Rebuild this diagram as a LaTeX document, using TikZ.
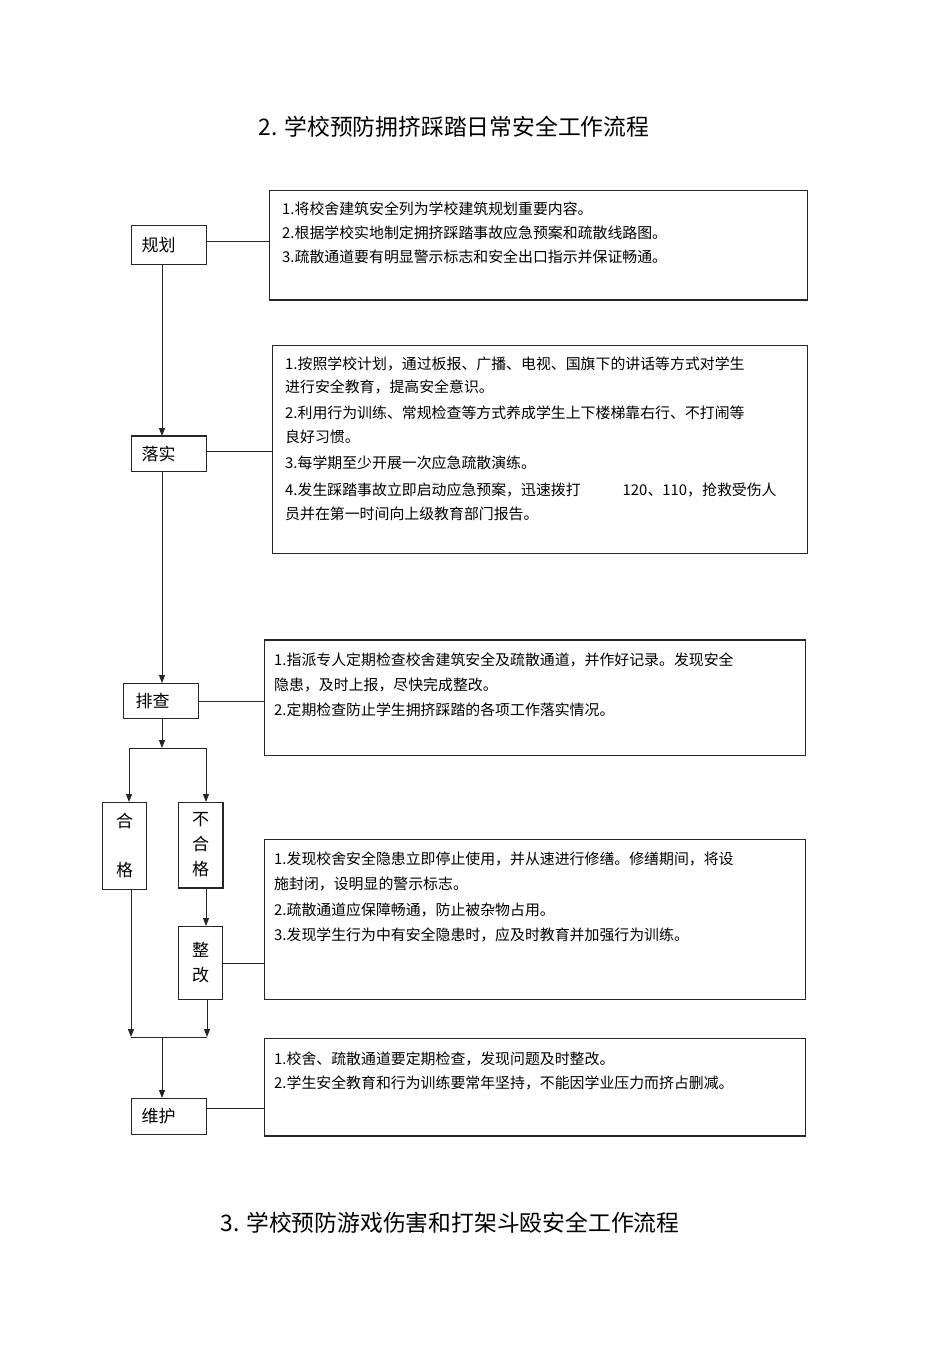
\documentclass[tikz,border=0pt]{standalone}
\usepackage{fontspec}
\setmainfont{Noto Sans CJK SC}
\usetikzlibrary{arrows.meta}
\begin{document}
\begin{tikzpicture}[x=1pt,y=-1pt,
  line/.style={draw=black!85, line width=1pt},
  heavy/.style={draw=black!85, line width=2pt},
  arr/.style={line, -{Triangle[length=8pt,width=6pt]}},
  panel/.style={line, anchor=north west, inner sep=0pt},
  stepbox/.style={line, anchor=north west, inner xsep=10pt, inner ysep=0pt, text width=55pt, align=left, font=\fontsize{17}{20}\selectfont},
  vbox/.style={line, anchor=north west, inner sep=0pt, minimum width=44pt, align=center},
  txt/.style={anchor=west, inner sep=0pt, font=\fontsize{14.9}{17}\selectfont},
  ttl/.style={inner sep=0pt, font=\fontsize{22.8}{26}\selectfont},
]
\path[use as bounding box, fill=white] (0,0) rectangle (950,1346);

% titles
\node[ttl] (title2) at (454,127) {2. 学校预防拥挤踩踏日常安全工作流程};
\node[ttl] (title3) at (450,1223) {3. 学校预防游戏伤害和打架斗殴安全工作流程};

% step boxes
\node[stepbox, minimum height=39pt] (plan) at (131,225) {规划};
\node[stepbox, minimum height=35pt] (impl) at (131,436) {落实};
\node[stepbox, minimum height=35pt, text width=51pt, inner xsep=12pt] (check) at (123,683) {排查};
\node[stepbox, minimum height=36pt] (maint) at (131,1098) {维护};
\node[vbox, minimum height=87pt, font=\fontsize{17}{49}\selectfont] (pass) at (102,802) {合\\格};
\node[vbox, minimum height=85pt, font=\fontsize{17}{25}\selectfont] (fail) at (178,802) {不\\合\\格};
\node[vbox, minimum height=73pt, font=\fontsize{17}{25}\selectfont] (fix) at (178,926) {整\\改};

% panels
\node[panel, minimum width=538pt, minimum height=109pt] (p1) at (269,190) {};
\node[panel, minimum width=535pt, minimum height=208pt] (p2) at (272,345) {};
\node[panel, minimum width=541pt, minimum height=115pt] (p3) at (264,640) {};
\node[panel, minimum width=541pt, minimum height=160pt] (p4) at (264,839) {};
\node[panel, minimum width=541pt, minimum height=97pt] (p5) at (264,1038) {};

% heavy edges
\draw[heavy] (p1.south west) -- (p1.south east);
\draw[heavy] (p3.north west) -- (p3.north east);
\draw[heavy] (p5.south west) -- (p5.south east);
\draw[heavy] (impl.north west) -- (impl.north east);
\draw[draw=black!85, line width=2.5pt] (fail.north east) -- (fail.south east) -- (fail.south west);

% panel texts
\node[txt] (a1) at (282,209) {1.将校舍建筑安全列为学校建筑规划重要内容。};
\node[txt] (a2) at (282,233) {2.根据学校实地制定拥挤踩踏事故应急预案和疏散线路图。};
\node[txt] (a3) at (282,257) {3.疏散通道要有明显警示标志和安全出口指示并保证畅通。};

\node[txt] (b1) at (285,364) {1.按照学校计划，通过板报、广播、电视、国旗下的讲话等方式对学生};
\node[txt] (b2) at (285,387) {进行安全教育，提高安全意识。};
\node[txt] (b3) at (285,413) {2.利用行为训练、常规检查等方式养成学生上下楼梯靠右行、不打闹等};
\node[txt] (b4) at (285,437) {良好习惯。};
\node[txt] (b5) at (285,463) {3.每学期至少开展一次应急疏散演练。};
\node[txt] (b6) at (285,490) {4.发生踩踏事故立即启动应急预案，迅速拨打\hspace*{42pt}120、110，抢救受伤人};
\node[txt] (b7) at (285,514) {员并在第一时间向上级教育部门报告。};

\node[txt] (c1) at (274,660) {1.指派专人定期检查校舍建筑安全及疏散通道，并作好记录。发现安全};
\node[txt] (c2) at (274,685) {隐患，及时上报，尽快完成整改。};
\node[txt] (c3) at (274,710) {2.定期检查防止学生拥挤踩踏的各项工作落实情况。};

\node[txt] (d1) at (274,859) {1.发现校舍安全隐患立即停止使用，并从速进行修缮。修缮期间，将设};
\node[txt] (d2) at (274,884) {施封闭，设明显的警示标志。};
\node[txt] (d3) at (274,910) {2.疏散通道应保障畅通，防止被杂物占用。};
\node[txt] (d4) at (274,935) {3.发现学生行为中有安全隐患时，应及时教育并加强行为训练。};

\node[txt] (e1) at (274,1059) {1.校舍、疏散通道要定期检查，发现问题及时整改。};
\node[txt] (e2) at (274,1083) {2.学生安全教育和行为训练要常年坚持，不能因学业压力而挤占删减。};

% connectors
\coordinate (spine) at (162,0);
\draw[line] ([yshift=4pt]plan.east) -- ([yshift=4pt]plan.east -| p1.west);
\draw[arr] (plan.south -| spine) -- (impl.north -| spine);
\draw[line] ([yshift=2.5pt]impl.east) -- ([yshift=2.5pt]impl.east -| p2.west);
\draw[arr] (impl.south -| spine) -- (check.north -| spine);
\draw[line] (check.east) -- (check.east -| p3.west);

\coordinate (fork) at (162,748);
\coordinate (forkL) at (129,748);
\coordinate (forkR) at (206,748);
\draw[arr] (check.south -| spine) -- (fork);
\draw[line] (forkL) -- (forkR);
\draw[arr] (forkL) -- (pass.north -| forkL);
\draw[arr] (forkR) -- (fail.north -| forkR);
\draw[arr] (fail.south -| forkR) -- (fix.north -| forkR);
\draw[line] (fix.east) -- (fix.east -| p4.west);

\coordinate (joinL) at (131,1037);
\coordinate (joinR) at (207,1037);
\coordinate (join) at (162,1037);
\draw[arr] (pass.south -| joinL) -- (joinL);
\draw[arr] (fix.south -| joinR) -- (joinR);
\draw[line] (joinL) -- (joinR);
\draw[arr] (join) -- (maint.north -| join);
\draw[line] ([yshift=8pt]maint.east) -- ([yshift=8pt]maint.east -| p5.west);
\end{tikzpicture}
\end{document}
